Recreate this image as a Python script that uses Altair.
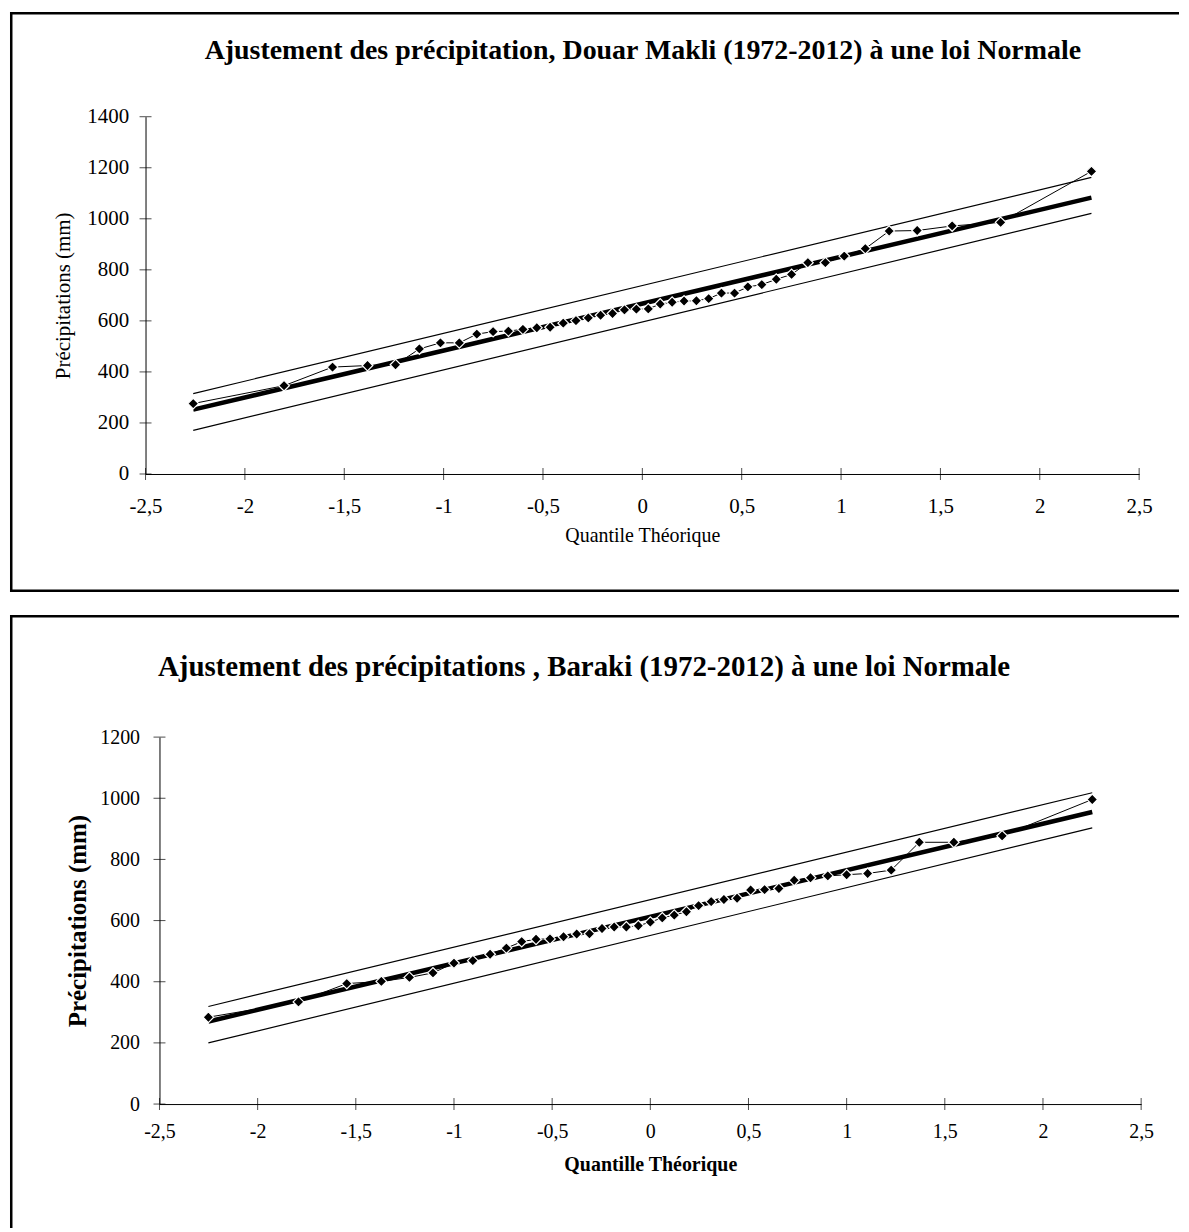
import altair as alt
import pandas as pd

# ---------------- Data: Douar Makli (top) ----------------
makli_q = [-2.260, -1.803, -1.559, -1.383, -1.242, -1.122, -1.016, -0.921, -0.833, -0.751,
           -0.674, -0.601, -0.531, -0.464, -0.398, -0.334, -0.272, -0.210, -0.150, -0.090,
           -0.030, 0.030, 0.090, 0.150, 0.210, 0.272, 0.334, 0.398, 0.464, 0.531,
           0.601, 0.674, 0.751, 0.833, 0.921, 1.016, 1.122, 1.242, 1.383, 1.559,
           1.803, 2.260]
makli_p = [276, 346, 419, 425, 428, 490, 514, 514, 548, 558,
           560, 567, 573, 575, 591, 601, 612, 622, 629, 643,
           646, 647, 666, 673, 678, 679, 687, 709, 709, 733,
           742, 763, 782, 828, 828, 854, 883, 952, 954, 972,
           986, 1186]
makli_ends_q = [-2.26, 2.26]
makli_fit = [252, 1083]
makli_upper = [315, 1162]
makli_lower = [171, 1021]

# ---------------- Data: Baraki (bottom) ----------------
baraki_q = [-2.251, -1.792, -1.546, -1.370, -1.227, -1.107, -1.000, -0.904, -0.816, -0.733,
            -0.655, -0.582, -0.511, -0.442, -0.375, -0.310, -0.246, -0.184, -0.122, -0.061,
            0.000, 0.061, 0.122, 0.184, 0.246, 0.310, 0.375, 0.442, 0.511, 0.582,
            0.655, 0.733, 0.816, 0.904, 1.000, 1.107, 1.227, 1.370, 1.546, 1.792,
            2.251]
baraki_p = [284, 334, 394, 401, 414, 429, 461, 469, 490, 510,
            531, 539, 540, 547, 556, 557, 574, 579, 579, 583,
            595, 609, 618, 629, 649, 662, 669, 673, 700, 701,
            705, 732, 740, 746, 750, 754, 765, 856, 856, 877,
            996]
baraki_ends_q = [-2.251, 2.251]
baraki_fit = [270, 955]
baraki_upper = [319, 1018]
baraki_lower = [200, 903]

x_ticks = [-2.5, -2, -1.5, -1, -0.5, 0, 0.5, 1, 1.5, 2, 2.5]
makli_y_ticks = [0, 200, 400, 600, 800, 1000, 1200, 1400]
baraki_y_ticks = [0, 200, 400, 600, 800, 1000, 1200]

title_top = "Ajustement des précipitation, Douar Makli (1972-2012) à une loi Normale"
title_bottom = "Ajustement des précipitations , Baraki (1972-2012) à une loi Normale"

FONT = "Liberation Serif"
LABEL_EXPR = "replace(replace(format(datum.value, '.1~f'), '.', ','), '\u2212', '-')"
ONE = pd.DataFrame({"k": [0]})


def panel(q, p, ends_q, fit, up, lo, yticks, ymax, W, H, xr, yr, title, tx, ty, s, bottom_border):
    xscale = alt.Scale(domain=[-2.5, 2.5], range=xr, nice=False, zero=False)
    yscale = alt.Scale(domain=[0, ymax], range=yr, nice=False, zero=False)
    xaxis = alt.Axis(values=x_ticks, ticks=False, grid=False, domainColor="black", domainWidth=1,
                     labelExpr=LABEL_EXPR, labelFont=FONT, labelFontSize=s["xl"], labelColor="black",
                     labelPadding=s["xlp"], labelFlush=False, labelOverlap=False,
                     offset=-(H - yr[0]),
                     title=s["xt"], titleFont=FONT, titleFontSize=s["xts"], titleFontWeight=s["xtw"],
                     titleColor="black", titlePadding=s["xtp"])
    yaxis = alt.Axis(values=yticks, ticks=False, grid=False, domainColor="black", domainWidth=1,
                     format="d", labelFont=FONT, labelFontSize=s["yl"], labelColor="black",
                     labelPadding=s["ylp"], labelFlush=False, labelOverlap=False,
                     offset=-xr[0],
                     title=s["yt"], titleFont=FONT, titleFontSize=s["yts"], titleFontWeight=s["ytw"],
                     titleColor="black", titlePadding=s["ytp"])

    def X(f):
        return alt.X(f, type="quantitative", scale=xscale, axis=xaxis)

    def Y(f):
        return alt.Y(f, type="quantitative", scale=yscale, axis=yaxis)

    pts = pd.DataFrame({"q": q, "p": p})
    ends = pd.DataFrame({"q": ends_q, "fit": fit, "up": up, "lo": lo})
    ytk = pd.DataFrame({"q": [-2.5] * len(yticks), "p": yticks})
    xtk = pd.DataFrame({"q": x_ticks, "p": [0] * len(x_ticks)})

    upper = alt.Chart(ends).mark_line(color="black", strokeWidth=1.2).encode(x=X("q"), y=Y("up"))
    lower = alt.Chart(ends).mark_line(color="black", strokeWidth=1.2).encode(x=X("q"), y=Y("lo"))
    fitl = alt.Chart(ends).mark_line(color="black", strokeWidth=4.5).encode(x=X("q"), y=Y("fit"))
    dline = alt.Chart(pts).mark_line(color="black", strokeWidth=1).encode(x=X("q"), y=Y("p"))
    dpts = alt.Chart(pts).mark_point(shape="diamond", filled=True, size=115, fill="black",
                                     stroke="white", strokeWidth=1.2, opacity=1).encode(x=X("q"), y=Y("p"))
    yt = alt.Chart(ytk).mark_tick(orient="horizontal", size=12, thickness=1, color="black").encode(x=X("q"), y=Y("p"))
    xt = alt.Chart(xtk).mark_tick(orient="vertical", size=12, thickness=1, color="black").encode(x=X("q"), y=Y("p"))
    ttl = alt.Chart(pd.DataFrame({"t": [title]})).mark_text(
        font=FONT, fontWeight="bold", fontSize=s["ts"], align="center", baseline="middle", color="black"
    ).encode(text="t:N", x=alt.value(tx), y=alt.value(ty))

    # frame around the chart area (left, top and, if visible, bottom)
    bw = 2.5
    frame_top = alt.Chart(ONE).mark_rule(color="black", strokeWidth=bw).encode(
        x=alt.value(0), x2=alt.value(W), y=alt.value(bw / 2))
    frame_left = alt.Chart(ONE).mark_rule(color="black", strokeWidth=bw).encode(
        x=alt.value(bw / 2), y=alt.value(0), y2=alt.value(H))
    layers = [upper, lower, fitl, dline, dpts, yt, xt, ttl, frame_top, frame_left]
    if bottom_border:
        frame_bot = alt.Chart(ONE).mark_rule(color="black", strokeWidth=bw).encode(
            x=alt.value(0), x2=alt.value(W), y=alt.value(H - bw / 2))
        layers.append(frame_bot)

    return alt.layer(*layers).properties(width=W, height=H)


top_style = dict(xl=21, xlp=22, xt="Quantile Théorique", xts=20, xtw="normal", xtp=9,
                 yl=21, ylp=17, yt="Précipitations (mm)", yts=21, ytw="normal", ytp=13, ts=28)
bot_style = dict(xl=20, xlp=18, xt="Quantille Théorique", xts=20, xtw="bold", xtp=13,
                 yl=20, ylp=20, yt="Précipitations (mm)", yts=25, ytw="bold", ytp=9, ts=29)

W = 1173
H_TOP = 582
H_BOT = 615

top = panel(makli_q, makli_p, makli_ends_q, makli_fit, makli_upper, makli_lower,
            makli_y_ticks, 1400, W, H_TOP, [136, 1133], [463.5, 105], title_top, 635, 39,
            top_style, True)
bottom = panel(baraki_q, baraki_p, baraki_ends_q, baraki_fit, baraki_upper, baraki_lower,
               baraki_y_ticks, 1200, W, H_BOT, [150, 1135], [490.7, 122.5], title_bottom, 576, 52,
               bot_style, False)

chart = alt.vconcat(top, bottom, spacing=19).properties(
    padding=0, background="white"
).configure_view(stroke=None)

chart.save("out.html", embed_options={"renderer": "svg", "actions": False})
